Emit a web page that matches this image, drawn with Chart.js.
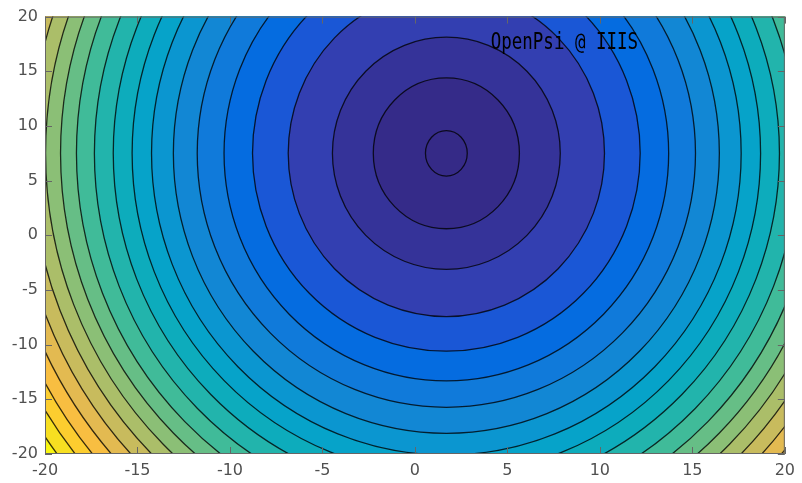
<!DOCTYPE html>
<html>
<head>
<meta charset="utf-8">
<script src="https://cdn.jsdelivr.net/npm/chart.js@4"></script>
<style>
  html, body { margin: 0; padding: 0; background: #fff; }
</style>
</head>
<body>
<canvas id="chart" width="802" height="483"></canvas>
<script>
// surface minimum and the contour levels around it
const center = { x: 1.7, y: 7.5 };
const levels  = [0.04, 0.43, 1, 2, 3, 4, 5, 6, 7, 8, 9, 10, 11, 12, 13, 14, 15, 16, 17, 18, 19];
// half-widths of each closed contour, in axis units
const radiusX = [1.13, 3.95, 6.16, 8.55, 10.48, 12.02, 13.47, 14.76, 15.94, 16.99, 18.01, 19.03, 20.0, 20.86, 21.67, 22.47, 23.28, 24.09, 24.84, 25.59, 26.34];
const radiusY = [2.08, 6.9, 10.62, 14.93, 18.10, 20.81, 23.23, 25.61, 27.6, 29.4, 31.2, 33.0, 34.7, 36.2, 37.6, 39.0, 40.4, 41.7, 43.1, 44.3, 45.7];
const zMin = 0;
const zMax = 19.2;

const xTicks = [-20, -15, -10, -5, 0, 5, 10, 15, 20];
const yTicks = [-20, -15, -10, -5, 0, 5, 10, 15, 20];

const stamp = { text: 'OpenPsi @ IIIS', x: 4.1, y: 17 };

// parula, every third entry
const parula = ['#352a87', '#353dad', '#2053d4', '#0268e1', '#0d75dc', '#1481d6', '#108ed2', '#079ccf',
  '#06a7c6', '#0faeb9', '#25b5a9', '#42bb98', '#65be86', '#87bf77', '#a5be6b', '#c0bc60',
  '#d9ba56', '#f1b94a', '#ffc337', '#fad32a', '#f5e41d', '#f9fb0e'];

const hex = h => [1, 3, 5].map(i => parseInt(h.substr(i, 2), 16));
const colorAt = (z) => {
  let t = Math.min(1, Math.max(0, (z - zMin) / (zMax - zMin))) * (parula.length - 1);
  const i = Math.min(parula.length - 2, Math.floor(t));
  const f = t - i;
  const a = hex(parula[i]), b = hex(parula[i + 1]);
  const c = a.map((v, k) => Math.round(v + (b[k] - v) * f));
  return `rgb(${c[0]},${c[1]},${c[2]})`;
};

const contourFill = {
  id: 'contourFill',
  beforeDatasetsDraw(chart) {
    const { ctx, chartArea: a, scales: { x, y } } = chart;
    const cx = x.getPixelForValue(center.x);
    const cy = y.getPixelForValue(center.y);
    const ellipse = (i) => {
      const rx = x.getPixelForValue(center.x + radiusX[i]) - cx;
      const ry = cy - y.getPixelForValue(center.y + radiusY[i]);
      ctx.beginPath();
      ctx.ellipse(cx, cy, rx, ry, 0, 0, Math.PI * 2);
    };
    ctx.save();
    ctx.beginPath();
    ctx.rect(a.left, a.top, a.right - a.left, a.bottom - a.top);
    ctx.clip();
    ctx.fillStyle = colorAt(levels[levels.length - 1]);
    ctx.fillRect(a.left, a.top, a.right - a.left, a.bottom - a.top);
    for (let i = levels.length - 1; i >= 0; i--) {
      ellipse(i);
      ctx.fillStyle = colorAt(i ? levels[i - 1] : zMin);
      ctx.fill();
    }
    ctx.strokeStyle = 'rgba(0,0,0,0.78)';
    ctx.lineWidth = 1.3;
    for (let i = 0; i < levels.length; i++) {
      ellipse(i);
      ctx.stroke();
    }
    ctx.restore();
  },
  afterDraw(chart) {
    const { ctx, chartArea: a, scales: { x, y } } = chart;
    ctx.save();
    // box and inward ticks
    ctx.strokeStyle = '#666';
    ctx.lineWidth = 1;
    ctx.strokeRect(a.left + 0.5, a.top + 0.5, a.right - a.left - 1, a.bottom - a.top - 1);
    ctx.beginPath();
    xTicks.forEach(v => {
      const px = Math.round(x.getPixelForValue(v)) + 0.5;
      ctx.moveTo(px, a.bottom); ctx.lineTo(px, a.bottom - 7);
      ctx.moveTo(px, a.top); ctx.lineTo(px, a.top + 7);
    });
    yTicks.forEach(v => {
      const py = Math.round(y.getPixelForValue(v)) + 0.5;
      ctx.moveTo(a.left, py); ctx.lineTo(a.left + 7, py);
      ctx.moveTo(a.right, py); ctx.lineTo(a.right - 7, py);
    });
    ctx.stroke();

    // stamp
    ctx.fillStyle = '#000';
    ctx.font = '23px "DejaVu Sans Mono"';
    ctx.textBaseline = 'alphabetic';
    ctx.translate(x.getPixelForValue(stamp.x), y.getPixelForValue(stamp.y));
    ctx.scale(0.76, 1);
    ctx.fillText(stamp.text, 0, 0);
    ctx.restore();
  }
};

const tickFont = { family: '"DejaVu Sans"', size: 16 };

new Chart(document.getElementById('chart'), {
  type: 'scatter',
  data: { datasets: [{ data: [] }] },
  options: {
    responsive: false,
    animation: false,
    layout: { padding: { top: 12, right: 13, left: 0, bottom: 0 } },
    plugins: { legend: { display: false }, tooltip: { enabled: false } },
    scales: {
      x: {
        type: 'linear', min: -20, max: 20,
        afterBuildTicks: s => { s.ticks = xTicks.map(v => ({ value: v })); },
        afterFit: s => { s.height = 29; },
        ticks: { color: '#505050', font: tickFont, padding: 7, maxRotation: 0 },
        grid: { display: false, drawTicks: false },
        border: { display: false }
      },
      y: {
        type: 'linear', min: -20, max: 20,
        afterBuildTicks: s => { s.ticks = yTicks.map(v => ({ value: v })); },
        afterFit: s => { s.width = 45; },
        ticks: { color: '#505050', font: tickFont, padding: 7 },
        grid: { display: false, drawTicks: false },
        border: { display: false }
      }
    }
  },
  plugins: [contourFill]
});
</script>
</body>
</html>
